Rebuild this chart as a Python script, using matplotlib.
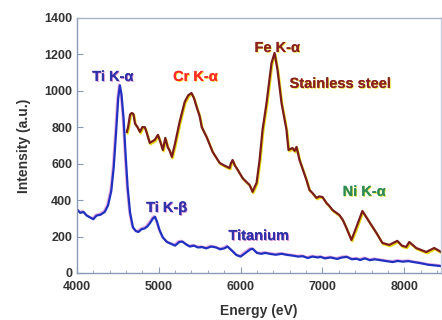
import matplotlib
matplotlib.use('Agg')
import matplotlib.pyplot as plt
import matplotlib.patheffects as pe

plt.rcParams['font.family'] = ['Liberation Sans', 'DejaVu Sans']

# titanium spectrum (energy eV, intensity a.u.)
ti_e = [4000, 4040, 4080, 4120, 4160, 4200, 4240, 4290, 4340, 4380, 4420, 4450, 4480, 4505,
        4525, 4545, 4570, 4595, 4620, 4650, 4685, 4720, 4750, 4790, 4830, 4860, 4895, 4930,
        4955, 4980, 5010, 5050, 5100, 5150, 5200, 5250, 5290, 5340, 5380, 5430, 5480, 5530,
        5580, 5640, 5700, 5750, 5800, 5840, 5900, 5950, 6000, 6060, 6120, 6150, 6200, 6250,
        6300, 6370, 6430, 6500, 6570, 6640, 6700, 6760, 6820, 6880, 6940, 6980, 7030, 7100,
        7180, 7240, 7300, 7360, 7420, 7460, 7520, 7580, 7640, 7710, 7780, 7860, 7920, 7980,
        8050, 8110, 8180, 8240, 8290, 8360, 8440]
ti_i = [350, 330, 335, 315, 305, 295, 315, 320, 335, 370, 450, 580, 780, 960,
        1030, 980, 850, 650, 470, 330, 250, 230, 225, 240, 245, 255, 275, 300,
        308, 280, 235, 195, 170, 160, 150, 170, 172, 155, 145, 150, 140, 142,
        135, 145, 140, 130, 135, 145, 120, 98, 90, 110, 130, 132, 110, 105,
        110, 104, 100, 105, 99, 95, 90, 92, 82, 90, 85, 88, 80, 85,
        77, 85, 88, 75, 78, 71, 80, 70, 75, 70, 65, 60, 66, 62,
        65, 60, 55, 50, 45, 42, 38]

# stainless steel spectrum
ss_e = [4610, 4625, 4650, 4671, 4690, 4710, 4740, 4770, 4800, 4830, 4850, 4890, 4950, 4990,
        5020, 5050, 5080, 5110, 5130, 5160, 5195, 5255, 5317, 5360, 5400, 5430, 5463, 5500,
        5525, 5585, 5659, 5744, 5800, 5866, 5880, 5902, 5930, 5951, 6024, 6070, 6110, 6146,
        6170, 6195, 6232, 6268, 6317, 6378, 6415, 6451, 6500, 6561, 6585, 6634, 6660, 6683,
        6720, 6805, 6841, 6878, 6927, 6960, 7000, 7049, 7080, 7122, 7207, 7250, 7293, 7354,
        7415, 7488, 7573, 7659, 7732, 7817, 7915, 7970, 8024, 8061, 8146, 8268, 8366, 8451]
ss_i = [774, 800, 870, 878, 873, 820, 801, 774, 801, 800, 774, 714, 730, 758,
        719, 675, 741, 690, 675, 637, 703, 829, 939, 975, 988, 960, 911, 860,
        801, 746, 664, 604, 590, 576, 600, 620, 590, 576, 521, 500, 483, 445,
        470, 494, 620, 785, 933, 1153, 1208, 1114, 933, 785, 675, 686, 670, 692,
        620, 510, 456, 439, 412, 420, 417, 384, 370, 346, 318, 290, 247, 181,
        252, 340, 280, 220, 165, 154, 176, 150, 143, 170, 137, 115, 137, 115]

labels = [
    ('Ti K-\u03b1', 4440, 1076, '#2f32a8', '#d060c0', 'center'),
    ('Cr K-\u03b1', 5451, 1076, '#ff2a2a', '#f0e000', 'center'),
    ('Fe K-\u03b1', 6451, 1235, '#8a2222', '#e8d800', 'center'),
    ('Stainless steel', 6598, 1038, '#8a2222', '#e8d800', 'left'),
    ('Ni K-\u03b1', 7512, 445, '#2e8b57', '#e8e000', 'center'),
    ('Ti K-\u03b2', 5098, 357, '#2f32a8', '#d060c0', 'center'),
    ('Titanium', 6220, 203, '#2f32a8', '#d060c0', 'center'),
]

fig = plt.figure(figsize=(4.42, 3.2), dpi=100)
ax = fig.add_axes([0.174, 0.147, 0.824, 0.797])

ax.plot(ss_e, ss_i, color='#7a1c1c', lw=1.6,
        path_effects=[pe.SimpleLineShadow(offset=(0.6, -1.0), shadow_color='#e8d800', alpha=0.9),
                      pe.Normal()])
ax.plot(ti_e, ti_i, color='#2030c0', lw=1.6,
        path_effects=[pe.SimpleLineShadow(offset=(-0.6, 0.6), shadow_color='#d050c0', alpha=0.5),
                      pe.Normal()])

for txt, x, y, col, sh, ha in labels:
    ax.text(x, y, txt, color=col, fontsize=10.5, fontweight='bold', ha=ha, va='center',
            path_effects=[pe.withSimplePatchShadow(offset=(0.6, -0.6), shadow_rgbFace=sh, alpha=0.8),
                          pe.Normal()])

ax.set_xlim(4000, 8450)
ax.set_ylim(0, 1400)
ax.set_xticks([4000, 5000, 6000, 7000, 8000])
ax.set_xticks(range(4000, 8450, 200), minor=True)
ax.set_yticks(range(0, 1401, 200))
ax.tick_params(axis='x', which='major', direction='in', length=4, color='#8a9ab8', pad=6)
ax.tick_params(axis='x', which='minor', direction='in', length=2.5, color='#8a9ab8')
ax.tick_params(axis='y', direction='in', length=4, color='#8a9ab8', pad=3.5)
for lab in ax.get_xticklabels() + ax.get_yticklabels():
    lab.set_fontweight('bold')
    lab.set_fontsize(9)
    lab.set_color('#333333')

for s in ax.spines.values():
    s.set_color('#8a9ab8')
    s.set_linewidth(1.0)
ax.spines['top'].set_color('#aab4c8')
ax.spines['right'].set_color('#c8d0e0')

ax.set_xlabel('Energy (eV)', fontsize=10, fontweight='bold', color='#333333', labelpad=8)
ax.set_ylabel('Intensity (a.u.)', fontsize=10, fontweight='bold', color='#333333', labelpad=9)

fig.savefig('out.png', dpi=100)
